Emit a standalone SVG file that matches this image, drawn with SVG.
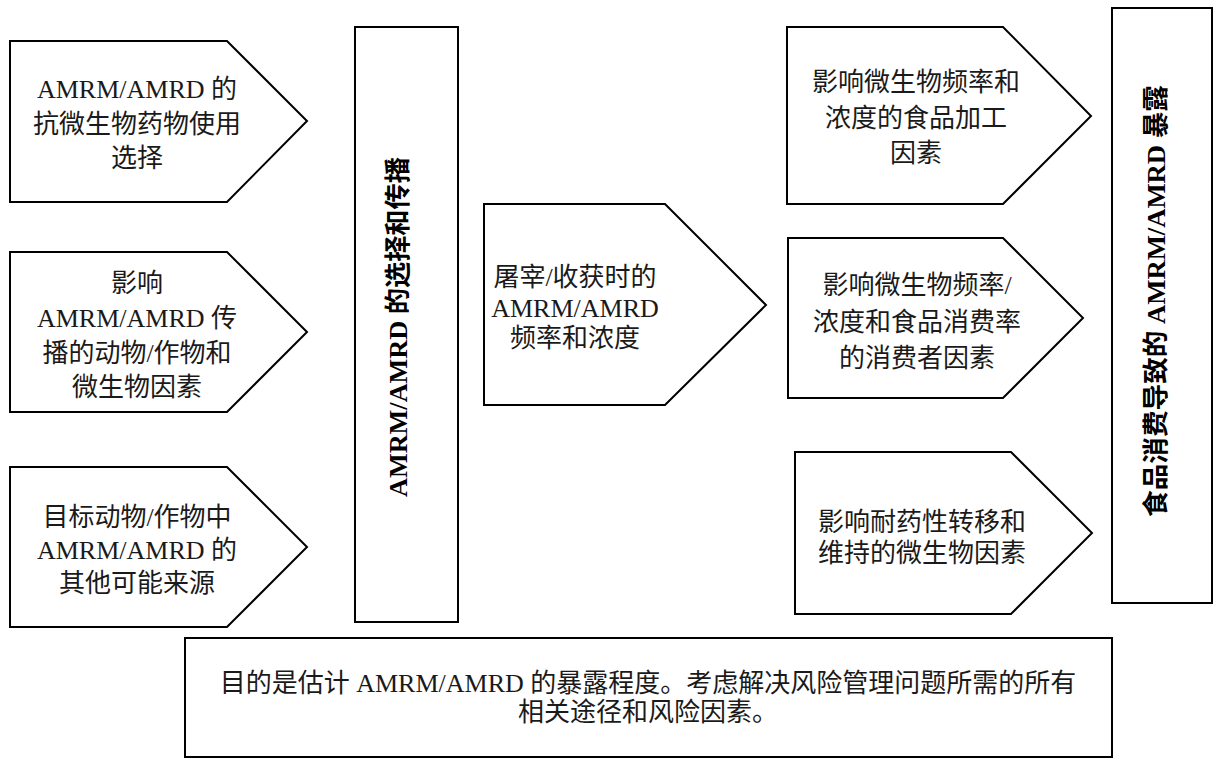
<svg xmlns="http://www.w3.org/2000/svg" width="1213" height="758" viewBox="0 0 1213 758">
<style>
.shape{fill:#fff;stroke:#000;stroke-width:2}
.t{font-family:"Liberation Serif","Noto Sans CJK SC",serif;font-size:26px;fill:#1a1a1a;text-anchor:middle}
.v{font-family:"Liberation Serif","Noto Sans CJK SC",serif;font-size:26px;font-weight:bold;fill:#000;text-anchor:middle}
</style>
<rect width="1213" height="758" fill="#fff"/>
<g id="connectors"></g>
<g id="n1">
<polygon class="shape" points="10,41 227,41 307,121 227,202 10,202"/>
<text class="t" x="137" y="98">AMRM/AMRD 的</text>
<text class="t" x="137" y="132.5">抗微生物药物使用</text>
<text class="t" x="137" y="167">选择</text>
</g>
<g id="n2">
<polygon class="shape" points="10,252 227,252 307,332 227,412 10,412"/>
<text class="t" x="137" y="292">影响</text>
<text class="t" x="137" y="326.5">AMRM/AMRD 传</text>
<text class="t" x="137" y="361.5">播的动物/作物和</text>
<text class="t" x="137" y="396">微生物因素</text>
</g>
<g id="n3">
<polygon class="shape" points="10,467 227,467 307,547 227,627 10,627"/>
<text class="t" x="137" y="526">目标动物/作物中</text>
<text class="t" x="137" y="559">AMRM/AMRD 的</text>
<text class="t" x="137" y="592">其他可能来源</text>
</g>
<g id="n4">
<rect class="shape" x="355" y="27" width="103" height="595"/>
<text class="v" transform="translate(407,327) rotate(-90)" textLength="340" lengthAdjust="spacingAndGlyphs">AMRM/AMRD 的选择和传播</text>
</g>
<g id="n5">
<polygon class="shape" points="484,204 665,204 766,305 665,405 484,405"/>
<text class="t" x="575" y="286">屠宰/收获时的</text>
<text class="t" x="575" y="316.5">AMRM/AMRD</text>
<text class="t" x="575" y="347">频率和浓度</text>
</g>
<g id="n6">
<polygon class="shape" points="787,27 1003,27 1091,116 1003,204 787,204"/>
<text class="t" x="916" y="91">影响微生物频率和</text>
<text class="t" x="916" y="127">浓度的食品加工</text>
<text class="t" x="916" y="162">因素</text>
</g>
<g id="n7">
<polygon class="shape" points="788,238 1003,238 1083,318 1003,398 788,398"/>
<text class="t" x="917" y="294">影响微生物频率/</text>
<text class="t" x="917" y="331">浓度和食品消费率</text>
<text class="t" x="917" y="367">的消费者因素</text>
</g>
<g id="n8">
<polygon class="shape" points="795,452 1011,452 1092,533 1011,614 795,614"/>
<text class="t" x="922" y="531">影响耐药性转移和</text>
<text class="t" x="922" y="562">维持的微生物因素</text>
</g>
<g id="n9">
<rect class="shape" x="1112" y="8" width="100" height="595"/>
<text class="v" transform="translate(1165,301) rotate(-90)" textLength="432" lengthAdjust="spacingAndGlyphs">食品消费导致的 AMRM/AMRD 暴露</text>
</g>
<g id="n10">
<rect class="shape" x="185" y="638" width="927" height="119"/>
<text class="t" x="648" y="692">目的是估计 AMRM/AMRD 的暴露程度。考虑解决风险管理问题所需的所有</text>
<text class="t" x="648" y="721">相关途径和风险因素。</text>
</g>
</svg>
